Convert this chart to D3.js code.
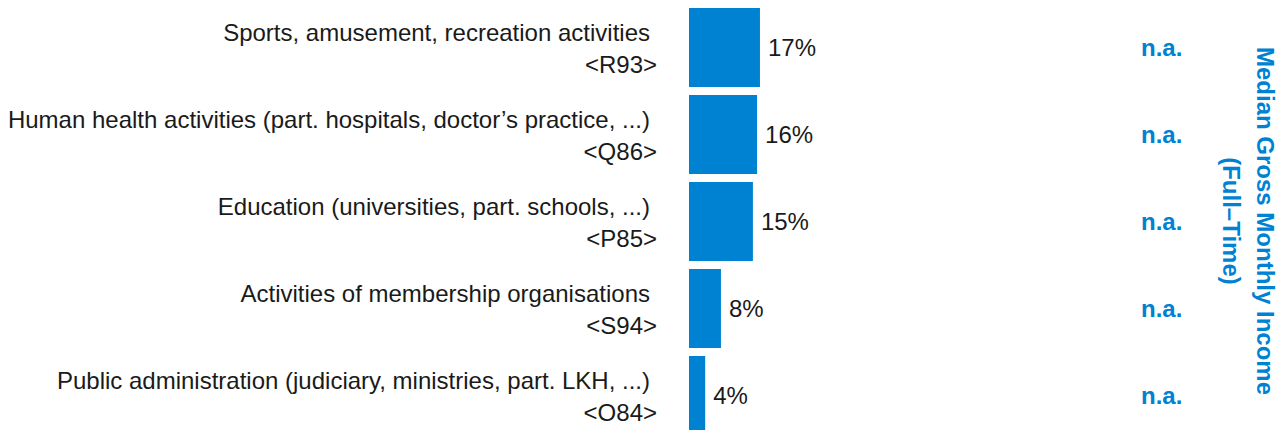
<!DOCTYPE html>
<html>
<head>
<meta charset="utf-8">
<script src="https://cdn.jsdelivr.net/npm/d3@7"></script>
<style>
  body { margin: 0; background: #fff; }
  svg text { font-family: "Liberation Sans", Arial, sans-serif; }
</style>
</head>
<body>
<div id="chart"></div>
<script>
// chart data
const categories = [
  'Sports, amusement, recreation activities',
  'Human health activities (part. hospitals, doctor\u2019s practice, ...)',
  'Education (universities, part. schools, ...)',
  'Activities of membership organisations',
  'Public administration (judiciary, ministries, part. LKH, ...)'
];
const codes = ['<R93>', '<Q86>', '<P85>', '<S94>', '<O84>'];
const shares = [0.171, 0.164, 0.154, 0.077, 0.039];
const shareLabels = ['17%', '16%', '15%', '8%', '4%'];
const incomeLabels = ['n.a.', 'n.a.', 'n.a.', 'n.a.', 'n.a.'];
const titleLines = ['Median Gross Monthly Income', '(Full\u2013Time)'];

const width = 1284, height = 430;
const blue = '#0082d2';

const svg = d3.select('#chart').append('svg')
  .attr('width', width)
  .attr('height', height);

// rows: 79px bars on an 87px step, last one runs past the bottom edge
const y = d3.scaleBand()
  .domain(d3.range(categories.length))
  .range([8, 435])
  .paddingInner(0.092)
  .paddingOuter(0);

const x = d3.scaleLinear()
  .domain([0, 1])
  .range([689, 689 + 415]);

const rows = svg.selectAll('g.row')
  .data(categories.map((c, i) => ({ cat: c, code: codes[i], v: shares[i], lbl: shareLabels[i], inc: incomeLabels[i], i })))
  .join('g')
  .attr('class', 'row')
  .attr('transform', d => `translate(0, ${y(d.i)})`);

rows.append('rect')
  .attr('x', x(0))
  .attr('y', 0)
  .attr('width', d => x(d.v) - x(0))
  .attr('height', y.bandwidth())
  .attr('fill', blue);

const mid = y.bandwidth() / 2;

rows.append('text')
  .attr('x', 650)
  .attr('y', mid - 6)
  .attr('text-anchor', 'end')
  .attr('font-size', 24)
  .attr('fill', '#1a1a1a')
  .text(d => d.cat);

rows.append('text')
  .attr('x', 657)
  .attr('y', mid + 26)
  .attr('text-anchor', 'end')
  .attr('font-size', 24)
  .attr('fill', '#1a1a1a')
  .text(d => d.code);

rows.append('text')
  .attr('x', d => x(d.v) + 8)
  .attr('y', mid + 9)
  .attr('font-size', 24)
  .attr('fill', '#1a1a1a')
  .text(d => d.lbl);

rows.append('text')
  .attr('x', 1141)
  .attr('y', mid + 8.5)
  .attr('font-size', 24)
  .attr('font-weight', 'bold')
  .attr('fill', blue)
  .text(d => d.inc);

// rotated title on the right
const title = svg.append('text')
  .attr('transform', 'translate(1257, 221) rotate(90)')
  .attr('text-anchor', 'middle')
  .attr('font-size', 24)
  .attr('font-weight', 'bold')
  .attr('fill', blue);

title.selectAll('tspan')
  .data(titleLines)
  .join('tspan')
  .attr('x', 0)
  .attr('dy', (d, i) => i === 0 ? 0 : 34)
  .text(d => d);
</script>
</body>
</html>
